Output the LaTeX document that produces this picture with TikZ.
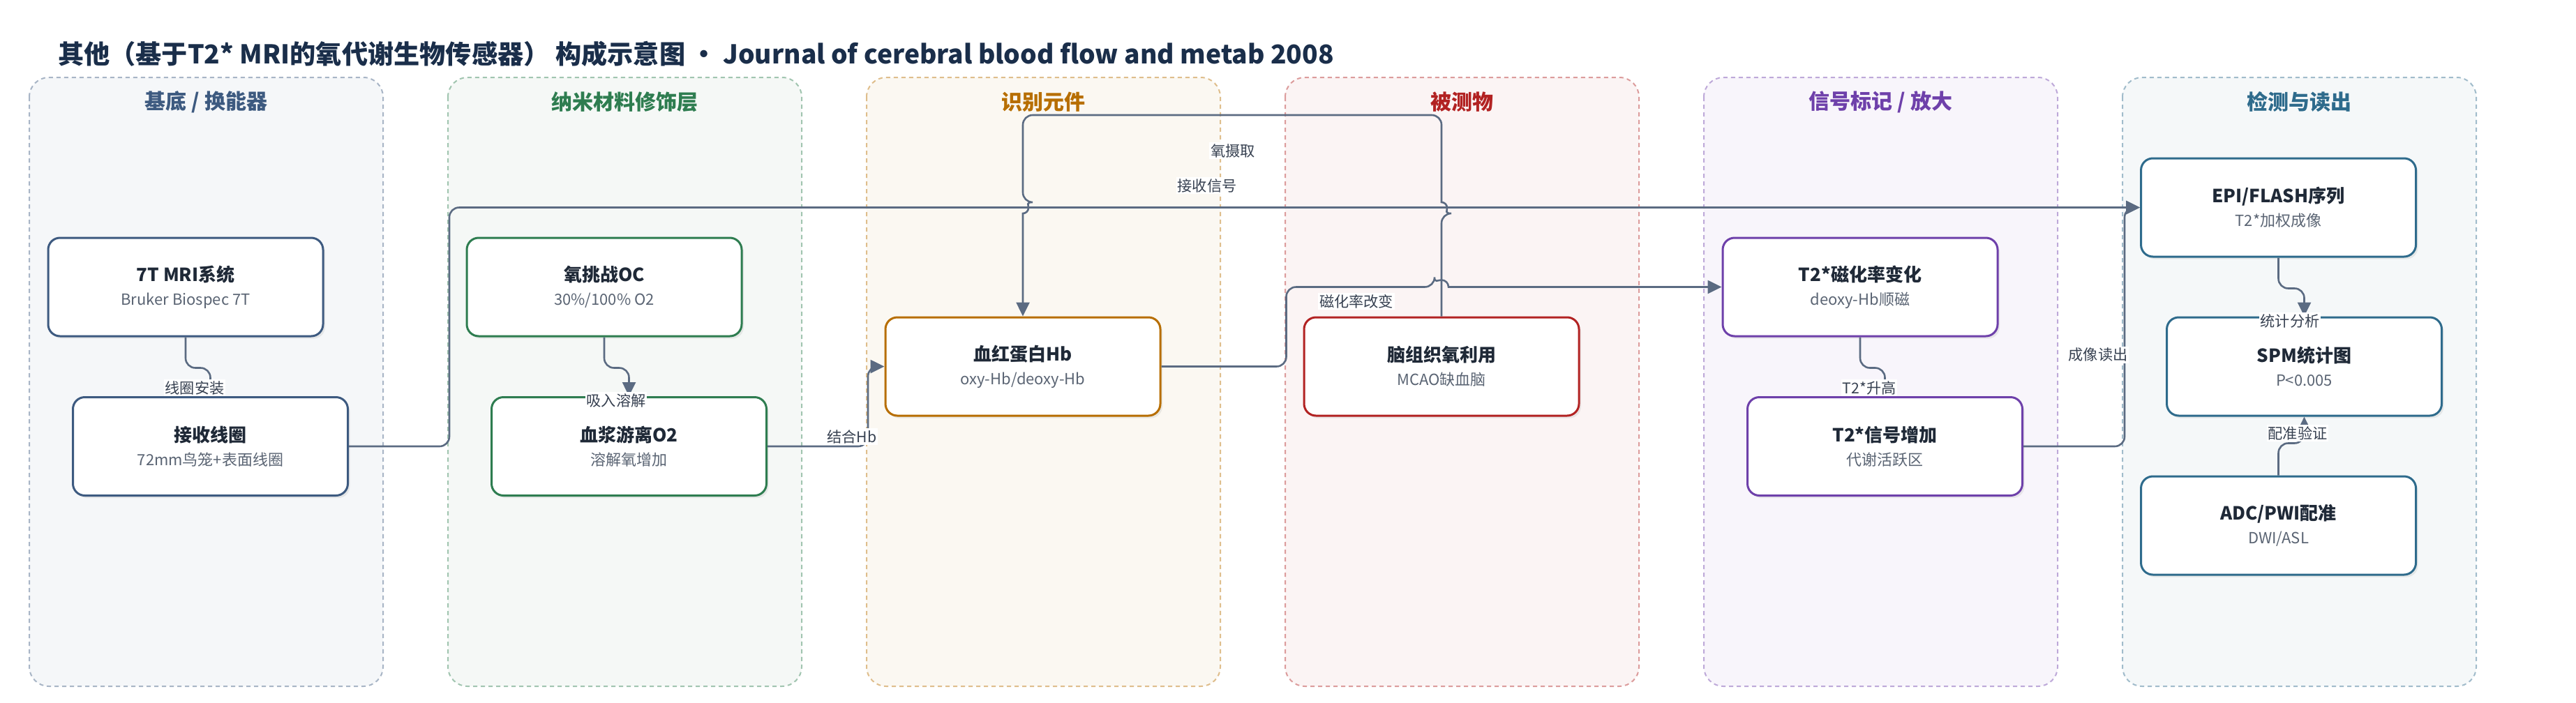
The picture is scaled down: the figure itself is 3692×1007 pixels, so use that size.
\documentclass[tikz,border=0pt]{standalone}
\usepackage{fontspec}
\setmainfont{Noto Sans CJK SC}
\usetikzlibrary{arrows.meta,calc,shadows}
\definecolor{cbase}{RGB}{61,90,128}
\definecolor{cnano}{RGB}{46,125,80}
\definecolor{crec}{RGB}{183,110,0}
\definecolor{cana}{RGB}{178,34,34}
\definecolor{csig}{RGB}{110,64,170}
\definecolor{cdet}{RGB}{46,107,140}
\definecolor{edgegray}{RGB}{91,107,130}
\definecolor{inkdark}{RGB}{31,41,55}
\definecolor{subgray}{RGB}{90,100,115}
\definecolor{lblgray}{RGB}{55,65,81}
\definecolor{titlenavy}{RGB}{26,46,74}
\newcommand{\subline}[1]{{\mdseries\fontsize{11}{15}\selectfont\color{subgray}#1}}

\begin{document}
\begin{tikzpicture}[x=0.5pt,y=-0.5pt,>={Triangle[length=10pt,width=9.5pt]},
    box/.style={draw=#1,line width=1.5pt,rounded corners=8.5pt,fill=white,minimum width=197pt,minimum height=70.5pt,align=center,text=inkdark,font=\fontsize{13}{17}\selectfont\bfseries,drop shadow={shadow xshift=1.5pt,shadow yshift=-1.8pt,opacity=0.14}},
    link/.style={->,line width=1.3pt,draw=edgegray,rounded corners=7pt},
    lbl/.style={fill=white,inner sep=1pt,text=lblgray,font=\fontsize{10.6}{12}\selectfont}]
  \fill[white] (0,0) rectangle (3692,1007);
  \useasboundingbox (0,0) rectangle (3692,1007);
  \node[anchor=west,font=\fontsize{18.6}{22}\selectfont\bfseries,text=titlenavy] (title) at (76,77) {其他（基于T2* MRI的氧代谢生物传感器） 构成示意图 • Journal of cerebral blood flow and metab 2008};
  % stage panels
  \foreach \k/\col/\ttl in {0/cbase/{基底 / 换能器},1/cnano/{纳米材料修饰层},2/crec/{识别元件},3/cana/{被测物},4/csig/{信号标记 / 放大},5/cdet/{检测与读出}}{
    \draw[draw=\col!45,fill=\col!5,line width=1pt,dash pattern=on 3pt off 2.5pt,rounded corners=14pt] (42+600*\k,111) rectangle (549+600*\k,984);
    \node[font=\fontsize{15}{18}\selectfont\bfseries,text=\col] (ttl\k) at (295.5+600*\k,146) {\ttl};
  }
  % blocks
  \node[box=cbase] (mri) at (266,411.5) {7T MRI系统\\\subline{Bruker Biospec 7T}};
  \node[box=cbase] (coil) at (301.5,640) {接收线圈\\\subline{72mm鸟笼+表面线圈}};
  \node[box=cnano] (oc) at (866,411.5) {氧挑战OC\\\subline{30\%/100\% O2}};
  \node[box=cnano] (plasma) at (901.5,640) {血浆游离O2\\\subline{溶解氧增加}};
  \node[box=crec] (hb) at (1466,525.5) {血红蛋白Hb\\\subline{oxy-Hb/deoxy-Hb}};
  \node[box=cana] (brain) at (2066,525.5) {脑组织氧利用\\\subline{MCAO缺血脑}};
  \node[box=csig] (susc) at (2666,411.5) {T2*磁化率变化\\\subline{deoxy-Hb顺磁}};
  \node[box=csig] (t2sig) at (2701.5,640) {T2*信号增加\\\subline{代谢活跃区}};
  \node[box=cdet] (epi) at (3265.5,297.5) {EPI/FLASH序列\\\subline{T2*加权成像}};
  \node[box=cdet] (spm) at (3302.5,525.5) {SPM统计图\\\subline{P<0.005}};
  \node[box=cdet] (adc) at (3265.5,753.5) {ADC/PWI配准\\\subline{DWI/ASL}};
  % connectors
  \draw[link] (mri.south) -- ++(0,44) -| (coil.north);
  \draw[link] (oc.south) -- ++(0,44) -| (plasma.north);
  \draw[link] (susc.south) -- ++(0,44) -| (t2sig.north);
  \draw[link] (epi.south) -- ++(0,44) -| (spm.north);
  \draw[link] (adc.north) -- ++(0,-46) -| (spm.south);
  \draw[link] (coil.east) -- ++(144,0) |- (epi.west);
  \draw[link] (t2sig.east) -- ++(145,0) |- (epi.west);
  \draw[link] (plasma.east) -- ++(144,0) |- (hb.west);
  \draw[link] (hb.east) -- ++(179,0) |- (2056,411.5) [sharp corners] arc[start angle=180,end angle=360,radius=10] -- (susc.west);
  \draw[link] (brain.north) -- (2066,306) [sharp corners] arc[start angle=90,end angle=-90,radius=8] [rounded corners=7pt] -- (2066,165) -| (1466,290) [sharp corners] arc[start angle=-90,end angle=90,radius=8] -- (hb.north);
  % edge labels
  \node[lbl] (l1) at (279,556) {线圈安装};
  \node[lbl] (l2) at (883,574) {吸入溶解};
  \node[lbl] (l3) at (2679,556) {T2*升高};
  \node[lbl] (l4) at (3282,460) {统计分析};
  \node[lbl] (l5) at (3293,621) {配准验证};
  \node[lbl] (l6) at (1730,266) {接收信号};
  \node[lbl] (l7) at (3007,509) {成像读出};
  \node[lbl] (l8) at (1221,626) {结合Hb};
  \node[lbl] (l9) at (1944,432) {磁化率改变};
  \node[lbl] (l10) at (1767,216) {氧摄取};
\end{tikzpicture}
\end{document}
